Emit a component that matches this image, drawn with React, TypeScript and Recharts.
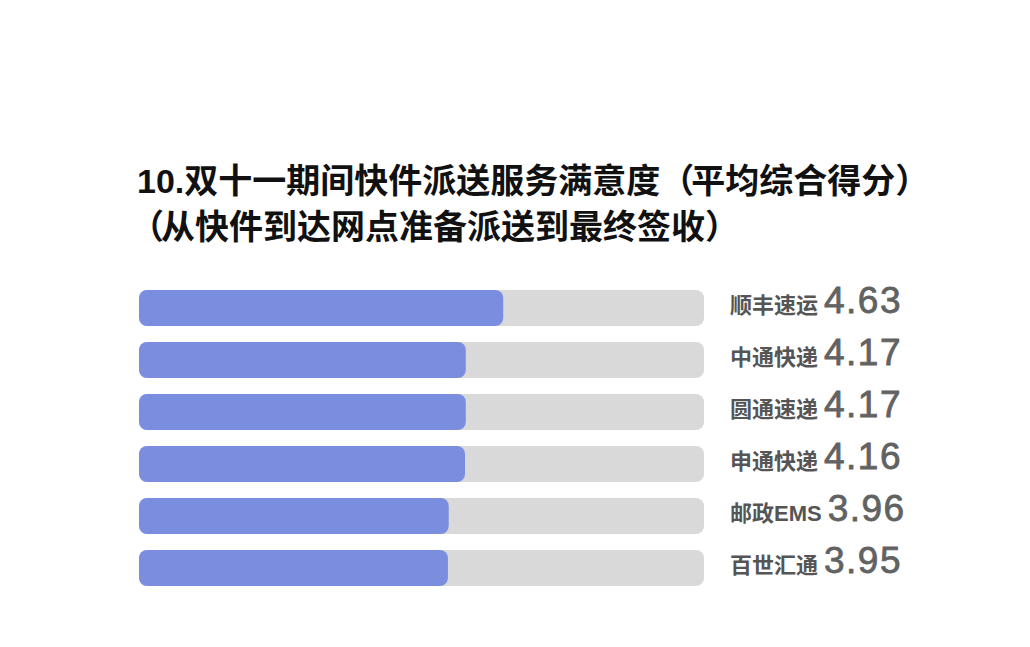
import { BarChart, Bar, XAxis, YAxis } from "recharts";

const companies = ["顺丰速运", "中通快递", "圆通速递", "申通快递", "邮政EMS", "百世汇通"];
const scores = [4.63, 4.17, 4.17, 4.16, 3.96, 3.95];
const titleLines = [
  "10.双十一期间快件派送服务满意度（平均综合得分）",
  "（从快件到达网点准备派送到最终签收）",
];

const data = companies.map((name, i) => ({ name, score: scores[i] }));

const CJK = "'Liberation Sans', 'Noto Sans CJK SC', sans-serif";

// brackets a little tighter than a full em, as in the reference
function TitleLine({ text }: { text: string }) {
  return (
    <>
      {Array.from(text).map((ch, i) =>
        ch === "（" || ch === "）" ? (
          <span key={i} style={{ letterSpacing: -3 }}>
            {ch}
          </span>
        ) : (
          <span key={i}>{ch}</span>
        )
      )}
    </>
  );
}

function ScoreTick(props: any) {
  const { x, y, payload } = props;
  const row = data[payload.index];
  return (
    <text x={x + 20} y={y + 5} fontFamily={CJK} textAnchor="start">
      <tspan fontSize={22} fontWeight={700} fill="#555">
        {row.name}
      </tspan>
      <tspan
        dx={6}
        fontSize={37}
        fill="#626262"
        stroke="#626262"
        strokeWidth={0.8}
        letterSpacing={1.5}
      >
        {row.score.toFixed(2)}
      </tspan>
    </text>
  );
}

export default function App() {
  return (
    <div
      style={{
        position: "absolute",
        left: 0,
        top: 0,
        width: 1030,
        height: 647,
        background: "#fff",
        fontFamily: CJK,
      }}
    >
      {titleLines.map((line, i) => (
        <div
          key={i}
          style={{
            position: "absolute",
            left: i === 0 ? 137 : 130,
            top: 161 + i * 46,
            fontSize: 34,
            fontWeight: 700,
            color: "#111",
            lineHeight: "40px",
            whiteSpace: "nowrap",
          }}
        >
          <TitleLine text={line} />
        </div>
      ))}
      <BarChart
        width={1030}
        height={647}
        data={data}
        layout="vertical"
        margin={{ top: 282, right: 26, bottom: 53, left: 139 }}
        barSize={36}
      >
        <XAxis type="number" hide domain={[0.15, 7.1]} allowDataOverflow />
        <YAxis yAxisId="left" type="category" dataKey="name" hide width={0} />
        <YAxis
          yAxisId="right"
          orientation="right"
          type="category"
          dataKey="name"
          width={300}
          axisLine={false}
          tickLine={false}
          tickMargin={0}
          tick={<ScoreTick />}
        />
        <Bar
          yAxisId="left"
          dataKey="score"
          fill="#7b8ddf"
          radius={8}
          background={{ fill: "#d9d9d9", radius: 8 }}
          isAnimationActive={false}
        />
      </BarChart>
    </div>
  );
}
